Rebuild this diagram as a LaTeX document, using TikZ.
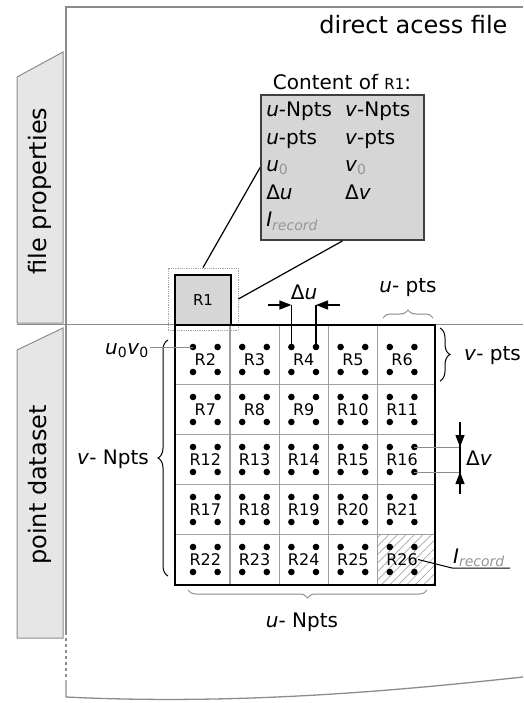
\documentclass[tikz,border=0pt]{standalone}
\usepackage{fontspec}
\setmainfont{DejaVu Sans}
\usetikzlibrary{arrows.meta,decorations.pathreplacing,patterns.meta}
\definecolor{tabgray}{RGB}{230,230,230}
\definecolor{boxgray}{RGB}{214,214,214}
\definecolor{framegray}{RGB}{140,140,140}
\definecolor{subgray}{RGB}{150,150,150}
\newcommand{\iu}{\textit{u}}
\newcommand{\iv}{\textit{v}}

\begin{document}
\begin{tikzpicture}[x=1pt, y=-1pt,
  txt/.style={font=\fontsize{20}{23}\selectfont, inner sep=1pt},
  tablbl/.style={font=\fontsize{24}{28}\selectfont, rotate=90},
  tab/.style={draw=framegray, fill=tabgray, line width=1pt},
  cell/.style={font=\fontsize{16}{18}\selectfont, inner sep=0pt},
  gridln/.style={draw=gray!75, line width=1.2pt},
  brc/.style={decorate, decoration={brace, amplitude=#1}, line width=1pt},
  brc/.default=8,
  dimar/.style={-{Triangle[length=12pt,width=9pt]}, line width=1.3pt},
  thinln/.style={draw=framegray, line width=0.8pt}
]
  \useasboundingbox (0,0) rectangle (523,703);

  % page outline
  \draw[framegray, line width=1.3pt] (523,7) -- (66,7) -- (66,632);
  \draw[framegray, line width=1.3pt, dashed] (66,632) -- (66,680);
  \draw[framegray, line width=1.3pt] (66,680) -- (66,697)
    .. controls (250,706) and (420,688) .. (523,677);

  % side tabs
  \draw[tab] (17,77) -- (63,52) -- (63,323) -- (17,323) -- cycle;
  \draw[tab] (17,350) -- (63,328) -- (63,638) -- (17,638) -- cycle;
  \node[tablbl] (props) at (40,191) {file properties};
  \node[tablbl] (dataset) at (40,485) {point dataset};
  \draw[thinln] (17,324) -- (523,324);

  \node[font=\fontsize{24}{28}\selectfont, anchor=east] (title) at (511,25) {direct acess file};

  % record R1 and its content
  \node[draw=gray!70, densely dotted, line width=0.8pt, minimum width=70,
        minimum height=62, inner sep=0pt] (r1halo) at (203,299) {};
  \node[draw, fill=boxgray, line width=1.8pt, minimum width=56, minimum height=50,
        inner sep=0pt, font=\fontsize{15}{17}\selectfont] (r1) at (203,300) {R1};

  \node[draw=black!75, fill=boxgray, line width=1.8pt, minimum width=163,
        minimum height=145] (content) at (342.5,167.5) {};
  \node[txt, anchor=base] (ctitle) at (342,90) {Content of {\fontsize{15}{17}\selectfont R1}:};
  \node[anchor=north west, inner sep=0pt, font=\fontsize{20}{27.5}\selectfont]
    (clist) at ([shift={(6,3)}]content.north west) {%
    \begin{tabular}{@{}l@{\hspace{13pt}}l@{}}
      \iu-Npts & \iv-Npts\\
      \iu-pts & \iv-pts\\
      \iu\textsubscript{\textcolor{subgray}{0}} & \iv\textsubscript{\textcolor{subgray}{0}}\\
      Δ\iu & Δ\iv\\
      \textit{I}\textsubscript{\textcolor{subgray}{\textit{record}}} &
    \end{tabular}};
  \draw[line width=1.2pt] (r1halo.north) -- (content.west);
  \draw[line width=1.2pt] (r1halo.east) -- (content.south);

  % point grid
  \fill[pattern={Lines[angle=45,distance=6pt,line width=0.7pt]}, pattern color=gray!70]
    (377.5,534.5) rectangle (435,585);
  \foreach \x in {229.9,279.1,328.3,377.5}
    \draw[gridln] (\x,325) -- (\x,585);
  \foreach \y in {384.5,434.5,484.5,534.5}
    \draw[gridln] (175,\y) -- (435,\y);
  \node[draw, line width=1.8pt, minimum size=260, inner sep=0pt] (grid) at (305,455) {};

  \foreach \r in {0,...,4}
    \foreach \c in {0,...,4} {
      \pgfmathtruncatemacro{\n}{2+5*\r+\c}
      \node[cell] (c\n) at (205.3+49.2*\c, 359.5+50*\r) {R\n};
      \foreach \dx in {-12.3,12.3}
        \foreach \dy in {-12.5,12.5}
          \fill ([shift={(\dx,\dy)}]c\n.center) circle (3.3);
    }

  % u-spacing
  \coordinate (du1) at ([shift={(-12.3,-12.5)}]c4.center);
  \coordinate (du2) at ([shift={(12.3,-12.5)}]c4.center);
  \coordinate (dul) at (268,305);
  \coordinate (dur) at (340,305);
  \draw[line width=1.4pt] (du1) -- (du1 |- dul);
  \draw[line width=1.4pt] (du2) -- (du2 |- dur);
  \draw[dimar] (dul) -- (du1 |- dul);
  \draw[dimar] (dur) -- (du2 |- dur);
  \node[txt] (dulbl) at (304,292) {Δ\iu};

  % v-spacing
  \coordinate (dv1) at ([shift={(12.3,-12.5)}]c16.center);
  \coordinate (dv2) at ([shift={(12.3,12.5)}]c16.center);
  \coordinate (dvt) at (460,422);
  \coordinate (dvb) at (460,494);
  \draw[thinln] (dv1) -- (dv1 -| dvt);
  \draw[thinln] (dv2) -- (dv2 -| dvt);
  \draw[line width=1.4pt] (dvt) -- (dvb);
  \draw[dimar] (dvt) -- (dv1 -| dvt);
  \draw[dimar] (dvb) -- (dv2 -| dvt);
  \node[txt, anchor=west] (dvlbl) at (465,458) {Δ\iv};

  % braces
  \draw[brc, framegray] (383,318) -- (433,318);
  \node[txt] (upts) at (408,288) {\iu- pts};
  \draw[brc=10] (440,328) -- (440,381);
  \node[txt, anchor=west] (vpts) at (463,356) {\iv- pts};
  \draw[brc=10] (168,576) -- (168,340);
  \node[txt, anchor=east] (vnpts) at (150,459) {\iv- Npts};
  \draw[brc, framegray] (427,590) -- (188,590);
  \node[txt] (unpts) at (302,622) {\iu- Npts};

  % origin
  \coordinate (o) at ([shift={(-12.3,-12.5)}]c2.center);
  \node[txt, anchor=east] (u0v0) at (150,351) {\iu\textsubscript{0}\iv\textsubscript{0}};
  \draw[thinln] (u0v0.east |- o) -- (o);

  % record length
  \node[txt, anchor=south west] (irec) at (452,568)
    {\textit{I}\textsubscript{\textcolor{subgray}{\textit{record}}}};
  \draw[line width=1pt] (c26.east) -- (irec.south west) -- ++(58,0);
\end{tikzpicture}
\end{document}
